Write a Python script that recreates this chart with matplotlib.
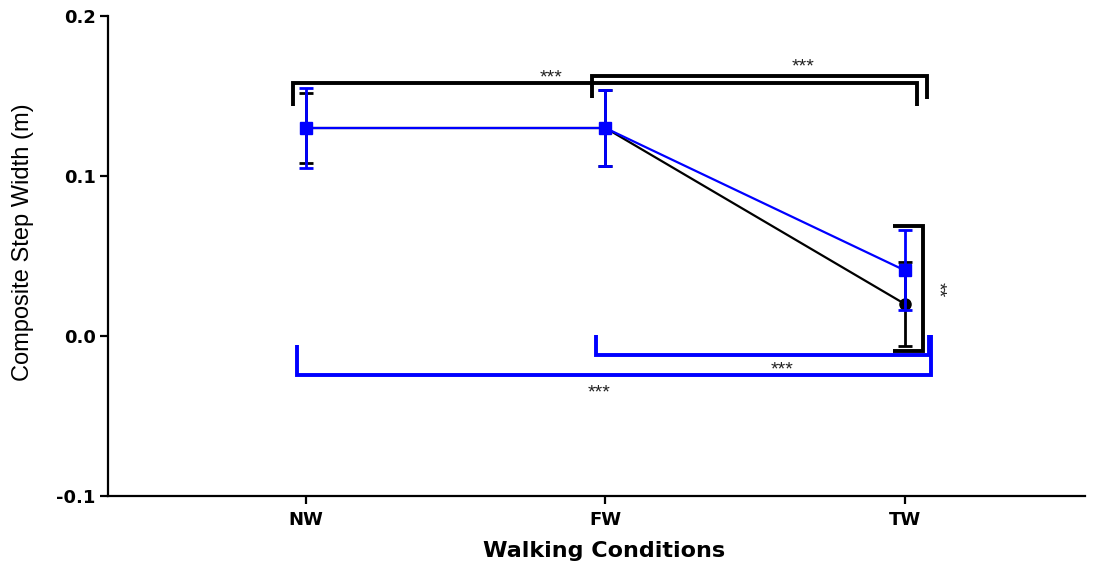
import matplotlib
matplotlib.use("Agg")
import matplotlib.pyplot as plt
import numpy as np

conditions = ["NW", "FW", "TW"]
black_mean = [0.130, 0.130, 0.020]
black_err = [0.022, 0.0235, 0.026]
blue_mean = [0.130, 0.130, 0.041]
blue_err = [0.025, 0.024, 0.025]

plt.rcParams['font.family'] = ['Liberation Sans', 'DejaVu Sans']

fig = plt.figure(figsize=(10.98, 5.66), dpi=100)
ax = fig.add_axes([0.0984, 0.1237, 0.8896, 0.848])

x = np.arange(len(conditions))
ax.errorbar(x, black_mean, yerr=black_err, color="black", lw=1.6, marker="o",
            ms=8, capsize=5, capthick=2, elinewidth=2, zorder=3)
ax.errorbar(x, blue_mean, yerr=blue_err, color="#0000ff", lw=1.6, marker="s",
            ms=8, capsize=5, capthick=2, elinewidth=2, zorder=4)

def bracket(x0, x1, y, y0, y1, color, lw=2.8):
    ax.plot([x0, x0, x1, x1], [y0, y, y, y1], color=color, lw=lw,
            solid_joinstyle="miter", solid_capstyle="butt", clip_on=False, zorder=2)

star_kw = dict(ha="center", va="center", fontsize=14, color="#222222")

# black brackets on top
bracket(-0.043, 2.04, 0.158, 0.144, 0.144, "black")
ax.text(0.82, 0.1615, "***", **star_kw)
bracket(0.955, 2.073, 0.1625, 0.149, 0.148, "black")
ax.text(1.66, 0.168, "***", **star_kw)
# vertical black bracket at TW
ax.plot([1.96, 2.06, 2.06, 1.96], [0.069, 0.069, -0.0094, -0.0094], color="black",
        lw=2.8, solid_joinstyle="miter", solid_capstyle="butt", zorder=2)
ax.text(2.11, 0.029, "**", rotation=270, **star_kw)

# blue brackets below
bracket(-0.03, 2.087, -0.0244, -0.0056, 0.0006, "#0000ff")
ax.text(0.98, -0.0355, "***", **star_kw)
bracket(0.968, 2.08, -0.012, 0.0006, 0.0006, "#0000ff")
ax.text(1.59, -0.0215, "***", **star_kw)

ax.set_xlim(-0.661, 2.601)
ax.set_ylim(-0.1, 0.2)
ax.set_yticks([-0.1, 0.0, 0.1, 0.2])
ax.set_yticklabels(["-0.1", "0.0", "0.1", "0.2"])
ax.set_xticks(x)
ax.set_xticklabels(conditions)

for s in ["top", "right"]:
    ax.spines[s].set_visible(False)
for s in ["left", "bottom"]:
    ax.spines[s].set_linewidth(1.6)
ax.tick_params(axis="both", width=1.6, length=6, labelsize=13, direction="out")
ax.tick_params(axis="x", pad=5)
ax.tick_params(axis="y", pad=3)
for lab in ax.get_xticklabels() + ax.get_yticklabels():
    lab.set_fontweight("bold")
    lab.set_family(["DejaVu Sans"])

ax.set_xlabel("Walking Conditions", fontsize=16, fontweight="bold",
              family=["DejaVu Sans"])
ax.xaxis.set_label_coords(0.508, -0.094)
ax.set_ylabel("Composite Step Width (m)", fontsize=17)
ax.yaxis.set_label_coords(-0.076, 0.529)

fig.savefig("out.png", dpi=100)
